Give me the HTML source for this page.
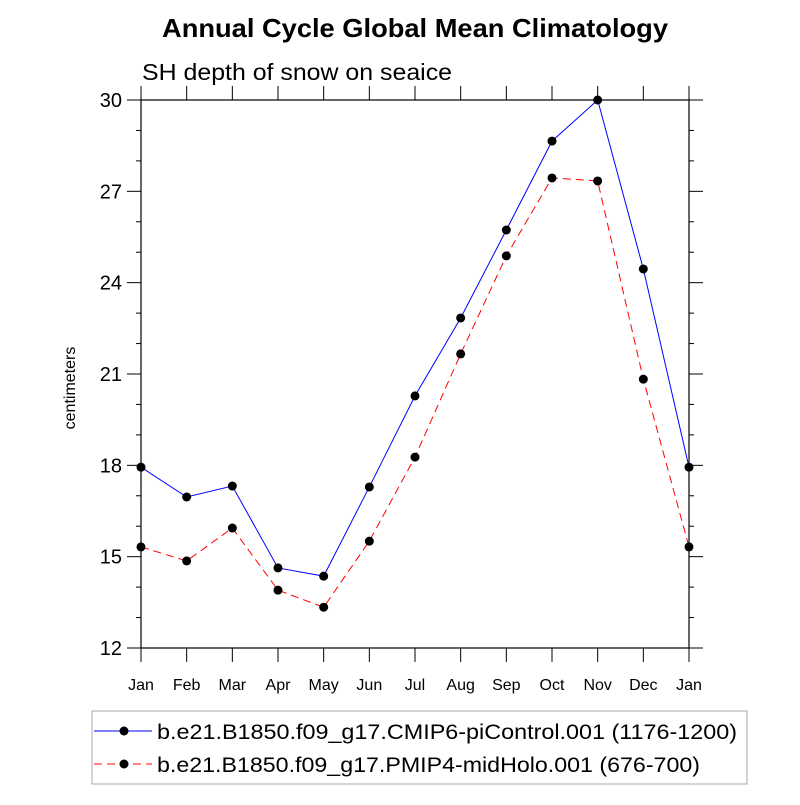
<!DOCTYPE html>
<html><head><meta charset="utf-8"><style>
body{margin:0;background:#fff;}
svg text{font-family:"Liberation Sans",sans-serif;}
</style></head><body>
<svg id="chart" width="800" height="800" xmlns="http://www.w3.org/2000/svg">
<text x="162" y="37" font-size="26" font-weight="bold" textLength="506" lengthAdjust="spacingAndGlyphs">Annual Cycle Global Mean Climatology</text>
<text x="142" y="80" font-size="23" textLength="310" lengthAdjust="spacingAndGlyphs">SH depth of snow on seaice</text>
<text transform="translate(75,388) rotate(-90)" font-size="16" text-anchor="middle">centimeters</text>
<g id="axes"></g>
<g id="series"></g>
<g>
<rect x="92" y="711" width="655" height="73" fill="none" stroke="#aaa" stroke-width="1"/>
<g>
<line x1="94" y1="731" x2="152" y2="731" stroke="#0000ff" stroke-width="1"/>
<circle cx="124" cy="731" r="4.5" fill="#000"/>
<text x="157" y="739" font-size="21" textLength="580" lengthAdjust="spacingAndGlyphs">b.e21.B1850.f09_g17.CMIP6-piControl.001 (1176-1200)</text>
</g>
<g>
<line x1="94" y1="764" x2="152" y2="764" stroke="#ff0000" stroke-width="1" stroke-dasharray="8,5"/>
<circle cx="124" cy="764" r="4.5" fill="#000"/>
<text x="157" y="772" font-size="21" textLength="543" lengthAdjust="spacingAndGlyphs">b.e21.B1850.f09_g17.PMIP4-midHolo.001 (676-700)</text>
</g>
</g>
</svg>
<script>
const months = ["Jan","Feb","Mar","Apr","May","Jun","Jul","Aug","Sep","Oct","Nov","Dec","Jan"];
const piControl = [17.94,16.96,17.32,14.63,14.36,17.29,20.28,22.84,25.73,28.65,30.0,24.45,17.94];
const midHolo = [15.32,14.86,15.94,13.90,13.34,15.51,18.27,21.66,24.88,27.44,27.34,20.83,15.32];
const yTicks = [12,15,18,21,24,27,30];
const yMin=12,yMax=30;
const L=141,R=689,T=100,B=648;
const NS="http://www.w3.org/2000/svg";
const xs=i=>L+(R-L)*i/(months.length-1);
const ys=v=>B-(B-T)*(v-yMin)/(yMax-yMin);
function mk(tag,attrs,parent){const e=document.createElementNS(NS,tag);for(const k in attrs)e.setAttribute(k,attrs[k]);parent.appendChild(e);return e;}
const ax=document.getElementById('axes');
const frame=mk('rect',{x:L,y:T,width:R-L,height:B-T,fill:'none',stroke:'#000','stroke-width':1.2},ax);


for(let v=yMin;v<=yMax;v++){
  const y=ys(v);const major=yTicks.includes(v);const len=major?14:5;
  mk('line',{x1:L-len,y1:y,x2:L,y2:y,stroke:'#000','stroke-width':1},ax);
  mk('line',{x1:R,y1:y,x2:R+len,y2:y,stroke:'#000','stroke-width':1},ax);
}
yTicks.forEach(v=>{
  const t=mk('text',{x:L-19,y:ys(v)+7,'font-size':20,'text-anchor':'end'},ax);
  t.textContent=v;
  
  
});
months.forEach((m,i)=>{
  const x=xs(i);
  mk('line',{x1:x,y1:B,x2:x,y2:B+14,stroke:'#000','stroke-width':1},ax);
  mk('line',{x1:x,y1:T-14,x2:x,y2:T,stroke:'#000','stroke-width':1},ax);
  const t=mk('text',{x:x,y:690,'font-size':16,'text-anchor':'middle'},ax);
  t.textContent=m;
  
  
});
const sg=document.getElementById('series');
function drawSeries(vals,color,dash,name){
  const g=mk('g',{},sg);
  
  
  const pts=vals.map((v,i)=>xs(i)+','+ys(v)).join(' ');
  const a={points:pts,fill:'none',stroke:color,'stroke-width':1};
  if(dash)a['stroke-dasharray']=dash;
  mk('polyline',a,g);
  vals.forEach((v,i)=>{
    const c=mk('circle',{cx:xs(i),cy:ys(v),r:4.5,fill:'#000'},g);
    
    
  });
}
drawSeries(piControl,'#0000ff',null,'series-picontrol');
drawSeries(midHolo,'#ff0000','8,5','series-midholo');
</script>
</body></html>
